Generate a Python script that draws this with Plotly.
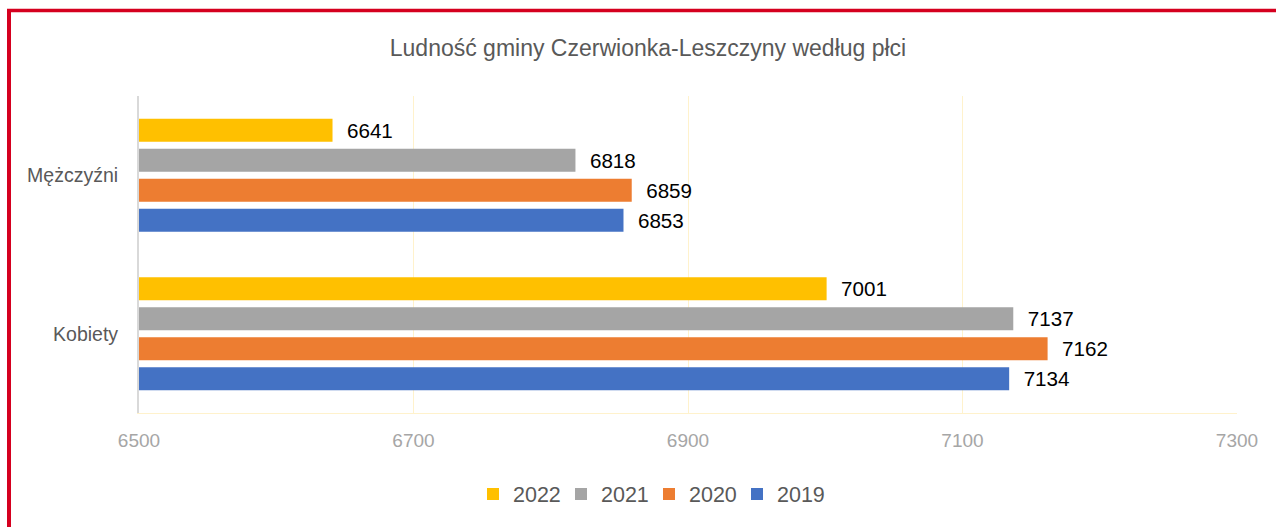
import plotly.graph_objects as go

categories = ["Kobiety", "Mężczyźni"]
years = ["2019", "2020", "2021", "2022"]
values_2019 = [7134, 6853]
values_2020 = [7162, 6859]
values_2021 = [7137, 6818]
values_2022 = [7001, 6641]
colors = {"2019": "#4472C4", "2020": "#ED7D31", "2021": "#A5A5A5", "2022": "#FFC000"}
series = {"2019": values_2019, "2020": values_2020, "2021": values_2021, "2022": values_2022}

FONT = "Liberation Sans, Arial, sans-serif"

fig = go.Figure()
for y in years:
    fig.add_trace(go.Bar(
        name=y, y=categories, x=series[y], orientation="h",
        marker=dict(color=colors[y], line=dict(width=0)),
        text=series[y], texttemplate="\u00a0\u00a0%{x}", textposition="outside",
        textfont=dict(size=25, color="#000000", family=FONT),
        cliponaxis=False,
    ))

W, H = 1276, 527
L, R, T, B = 139, 39, 96, 114
pw, ph = W - L - R, H - T - B

def px_x(p):
    return (p - L) / pw

def px_y(p):
    return (H - B - p) / ph

red = "#D5001F"
fig.update_layout(
    width=W, height=H,
    margin=dict(l=L, r=R, t=T, b=B, autoexpand=False),
    paper_bgcolor="white", plot_bgcolor="white",
    barmode="group", bargap=0.243, bargroupgap=0.23,
    title=dict(text="Ludność gminy Czerwionka-Leszczyny według płci",
               x=648 / W, xref="container", xanchor="center", y=1 - 48 / H, yanchor="middle",
               font=dict(size=23, color="#595959", family=FONT)),
    xaxis=dict(range=[6500, 7300], dtick=200, tick0=6500, showgrid=True,
               gridcolor="#FFF2CC", gridwidth=1, showline=True, linecolor="#FFF2CC",
               zeroline=False, tickfont=dict(size=19, color="#A6A6A6", family=FONT),
               ticks="", ticklabelstandoff=10),
    yaxis=dict(showline=True, linecolor="#D9D9D9", linewidth=2, showgrid=False,
               tickfont=dict(size=19.5, color="#595959", family=FONT),
               ticks="", ticklabelstandoff=15),
    legend=dict(orientation="h", xref="paper", x=px_x(649), xanchor="center",
                y=px_y(494), yanchor="middle",
                traceorder="reversed", font=dict(size=21.5, color="#595959", family=FONT),
                itemwidth=30, entrywidth=43, entrywidthmode="pixels"),
    showlegend=True,
    shapes=[
        dict(type="line", xref="paper", yref="paper", x0=px_x(9), x1=px_x(9),
             y0=px_y(9), y1=px_y(540), line=dict(color=red, width=4)),
        dict(type="line", xref="paper", yref="paper", x0=px_x(7), x1=px_x(1290),
             y0=px_y(10.5), y1=px_y(10.5), line=dict(color=red, width=3.5)),
    ],
)

fig.write_html("out.html", config={"displayModeBar": False},
               post_script="document.body.style.margin='0px';")
